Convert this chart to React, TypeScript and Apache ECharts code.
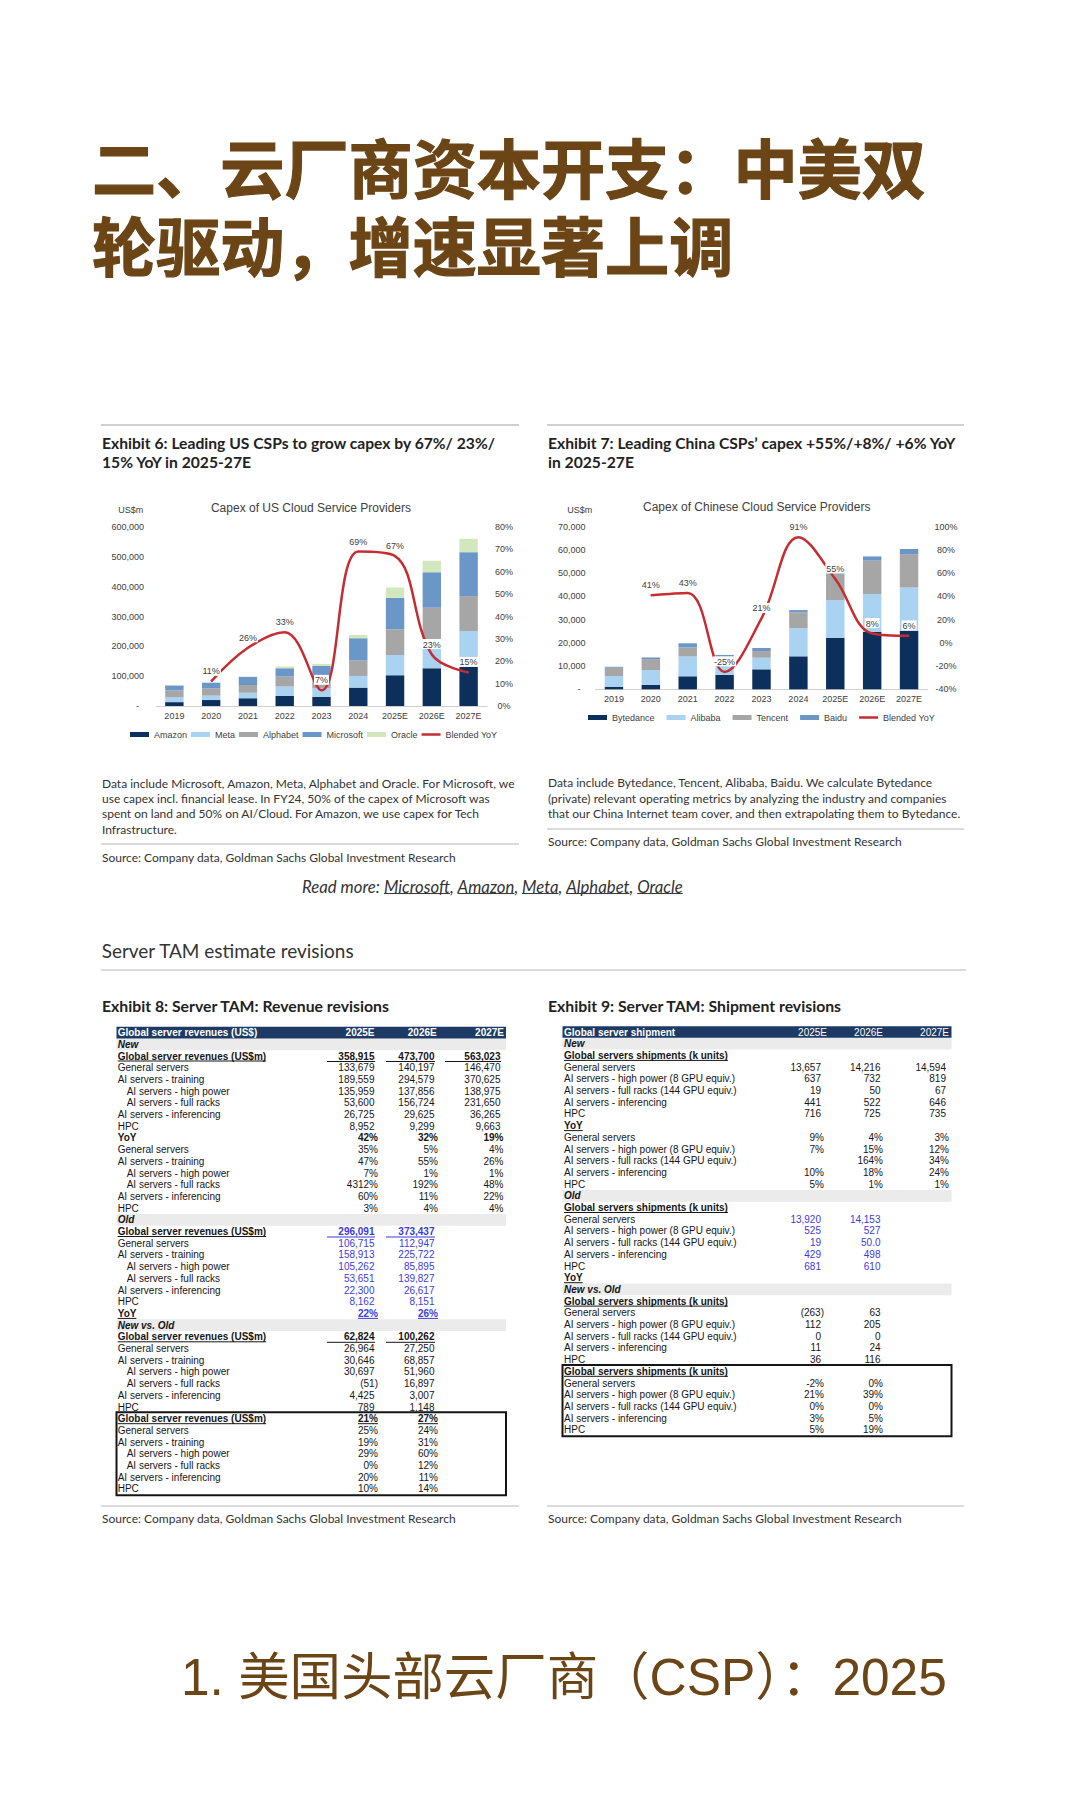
import React, { useEffect, useRef } from 'react';
import * as echarts from 'echarts';

// ---------------- text content ----------------
const pageTitle = ['二、云厂商资本开支：中美双', '轮驱动，增速显著上调'];
const bottomTitle = '1. 美国头部云厂商（CSP）：2025';

const ex6Title = ['Exhibit 6: Leading US CSPs to grow capex by 67%/ 23%/', '15% YoY in 2025-27E'];
const ex7Title = ['Exhibit 7: Leading China CSPs’ capex +55%/+8%/ +6% YoY', 'in 2025-27E'];
const usChartTitle = 'Capex of US Cloud Service Providers';
const cnChartTitle = 'Capex of Chinese Cloud Service Providers';
const unitLabel = 'US$m';
const ex6Notes = [
  'Data include Microsoft, Amazon, Meta, Alphabet and Oracle. For Microsoft, we',
  'use capex incl. financial lease. In FY24, 50% of the capex of Microsoft was',
  'spent on land and 50% on AI/Cloud. For Amazon, we use capex for Tech',
  'Infrastructure.',
];
const ex7Notes = [
  'Data include Bytedance, Tencent, Alibaba, Baidu. We calculate Bytedance',
  '(private) relevant operating metrics by analyzing the industry and companies',
  'that our China Internet team cover, and then extrapolating them to Bytedance.',
];
const sourceText = 'Source: Company data, Goldman Sachs Global Investment Research';
const readMorePrefix = 'Read more: ';
const readMoreLinks = ['Microsoft', 'Amazon', 'Meta', 'Alphabet', 'Oracle'];
const sectionHeading = 'Server TAM estimate revisions';
const ex8Title = 'Exhibit 8: Server TAM: Revenue revisions';
const ex9Title = 'Exhibit 9: Server TAM: Shipment revisions';

// ---------------- chart data ----------------
const years = ['2019', '2020', '2021', '2022', '2023', '2024', '2025E', '2026E', '2027E'];

const usNames = ['Amazon', 'Meta', 'Alphabet', 'Microsoft', 'Oracle'];
const usAmazon = [13000, 20000, 25700, 33600, 31000, 61600, 103000, 126500, 134000];
const usMeta = [16000, 14700, 19100, 31400, 29000, 39100, 68000, 89500, 117500];
const usAlphabet = [23500, 24300, 25700, 33500, 32000, 51500, 86000, 113000, 117000];
const usMicrosoft = [16500, 19000, 26500, 28000, 42000, 75000, 106000, 119000, 147000];
const usOracle = [1600, 1500, 1500, 6000, 7000, 11000, 34000, 39000, 45000];
const usYoY = [null, 0.11, 0.26, 0.33, 0.07, 0.69, 0.67, 0.23, 0.15];
const usLeftTicks = [0, 600000, 100000];
const usRightTicks = [0, 0.8, 0.1];

const cnNames = ['Bytedance', 'Alibaba', 'Tencent', 'Baidu'];
const cnBytedance = [1100, 1900, 5600, 6200, 8600, 14200, 22200, 24800, 25200];
const cnAlibaba = [4600, 6400, 8500, 4500, 5000, 12100, 16200, 16200, 18600];
const cnTencent = [3600, 4700, 4000, 3300, 2900, 6800, 13300, 14400, 14400];
const cnBaidu = [400, 700, 1700, 800, 1300, 1000, 1300, 1800, 2200];
const cnYoY = [null, 0.41, 0.43, -0.25, 0.21, 0.91, 0.55, 0.08, 0.06];
const cnLeftTicks = [0, 70000, 10000];
const cnRightTicks = [-0.4, 1.0, 0.2];

const yoyName = 'Blended YoY';

// ---------------- table 1 (revenue) ----------------
const t1Header = ['Global server revenues (US$)', '2025E', '2026E', '2027E'];
const t1Labels = [
  'New', 'Global server revenues (US$m)', 'General servers', 'AI servers - training',
  'AI servers - high power', 'AI servers - full racks', 'AI servers - inferencing', 'HPC',
  'YoY', 'General servers', 'AI servers - training', 'AI servers - high power',
  'AI servers - full racks', 'AI servers - inferencing', 'HPC',
  'Old', 'Global server revenues (US$m)', 'General servers', 'AI servers - training',
  'AI servers - high power', 'AI servers - full racks', 'AI servers - inferencing', 'HPC', 'YoY',
  'New vs. Old', 'Global server revenues (US$m)', 'General servers', 'AI servers - training',
  'AI servers - high power', 'AI servers - full racks', 'AI servers - inferencing', 'HPC',
  'Global server revenues (US$m)', 'General servers', 'AI servers - training',
  'AI servers - high power', 'AI servers - full racks', 'AI servers - inferencing', 'HPC',
];
const t1Col2025E = [
  '', '358,915', '133,679', '189,559', '135,959', '53,600', '26,725', '8,952',
  '42%', '35%', '47%', '7%', '4312%', '60%', '3%',
  '', '296,091', '106,715', '158,913', '105,262', '53,651', '22,300', '8,162', '22%',
  '', '62,824', '26,964', '30,646', '30,697', '(51)', '4,425', '789',
  '21%', '25%', '19%', '29%', '0%', '20%', '10%',
];
const t1Col2026E = [
  '', '473,700', '140,197', '294,579', '137,856', '156,724', '29,625', '9,299',
  '32%', '5%', '55%', '1%', '192%', '11%', '4%',
  '', '373,437', '112,947', '225,722', '85,895', '139,827', '26,617', '8,151', '26%',
  '', '100,262', '27,250', '68,857', '51,960', '16,897', '3,007', '1,148',
  '27%', '24%', '31%', '60%', '12%', '11%', '14%',
];
const t1Col2027E = [
  '', '563,023', '146,470', '370,625', '138,975', '231,650', '36,265', '9,663',
  '19%', '4%', '26%', '1%', '48%', '22%', '4%',
  '', '', '', '', '', '', '', '', '',
  '', '', '', '', '', '', '', '',
  '', '', '', '', '', '', '',
];
// row kinds (style codes)
const t1Kinds = [
  'sec', 'tot', 'r', 'r', 's', 's', 'r', 'r',
  'yoy', 'r', 'r', 's', 's', 'r', 'r',
  'sec', 'totB', 'b', 'b', 'bs', 'bs', 'b', 'b', 'yoyB',
  'sec', 'tot', 'r', 'r', 's', 's', 'r', 'r',
  'box', 'r', 'r', 's', 's', 'r', 'r',
];

// ---------------- table 2 (shipments) ----------------
const t2Header = ['Global server shipment', '2025E', '2026E', '2027E'];
const t2Labels = [
  'New', 'Global servers shipments (k units)', 'General servers',
  'AI servers - high power (8 GPU equiv.)', 'AI servers - full racks (144 GPU equiv.)',
  'AI servers - inferencing', 'HPC',
  'YoY', 'General servers', 'AI servers - high power (8 GPU equiv.)',
  'AI servers - full racks (144 GPU equiv.)', 'AI servers - inferencing', 'HPC',
  'Old', 'Global servers shipments (k units)', 'General servers',
  'AI servers - high power (8 GPU equiv.)', 'AI servers - full racks (144 GPU equiv.)',
  'AI servers - inferencing', 'HPC', 'YoY',
  'New vs. Old', 'Global servers shipments (k units)', 'General servers',
  'AI servers - high power (8 GPU equiv.)', 'AI servers - full racks (144 GPU equiv.)',
  'AI servers - inferencing', 'HPC',
  'Global servers shipments (k units)', 'General servers',
  'AI servers - high power (8 GPU equiv.)', 'AI servers - full racks (144 GPU equiv.)',
  'AI servers - inferencing', 'HPC',
];
const t2Col2025E = [
  '', '', '13,657', '637', '19', '441', '716',
  '', '9%', '7%', '', '10%', '5%',
  '', '', '13,920', '525', '19', '429', '681', '',
  '', '', '(263)', '112', '0', '11', '36',
  '', '-2%', '21%', '0%', '3%', '5%',
];
const t2Col2026E = [
  '', '', '14,216', '732', '50', '522', '725',
  '', '4%', '15%', '164%', '18%', '1%',
  '', '', '14,153', '527', '50.0', '498', '610', '',
  '', '', '63', '205', '0', '24', '116',
  '', '0%', '39%', '0%', '5%', '19%',
];
const t2Col2027E = [
  '', '', '14,594', '819', '67', '646', '735',
  '', '3%', '12%', '34%', '24%', '1%',
  '', '', '', '', '', '', '', '',
  '', '', '', '', '', '', '',
  '', '', '', '', '', '',
];
const t2Kinds = [
  'sec', 'hdr', 'r', 'r', 'r', 'r', 'r',
  'hdr', 'r', 'r', 'r', 'r', 'r',
  'sec', 'hdr', 'b', 'b', 'b', 'b', 'b', 'hdr',
  'sec', 'hdr', 'r', 'r', 'r', 'r', 'r',
  'box', 'r', 'r', 'r', 'r', 'r',
];

// ---------------- styling ----------------
const SANS = '"Liberation Sans", Arial, sans-serif';
const HUM = 'Lato, "Open Sans", sans-serif';
const MIXED = '"Liberation Sans", "Noto Sans CJK SC", sans-serif';
const BROWN = '#6b4516';
const C_NAVY = '#0c2f5c';
const C_LIGHT = '#a9d3f1';
const C_GRAY = '#a6a6a6';
const C_MID = '#6b96c8';
const C_GREEN = '#d3e7bf';
const C_RED = '#c42d32';
const TBL_NAVY = '#1c3a63';
const INK = '#151515';
const BLUE = '#3b3bdc';
const AXIS_TXT = '#404040';

let mctx: any = null;
function measure(t: string, size: number, family: string, weight = 'normal', style = 'normal') {
  if (!mctx) mctx = document.createElement('canvas').getContext('2d');
  mctx.font = `${style} ${weight} ${size}px ${family}`;
  return mctx.measureText(t).width;
}
function fitSize(t: string, width: number, family: string, weight = 'normal', style = 'normal') {
  return (100 * width) / measure(t, 100, family, weight, style);
}

function txt(t: string, x: number, y: number, size: number, family: string, o: any = {}) {
  const align = o.align || 'left';
  const va = o.va || 'middle';
  const style: any = {
    text: t, fill: o.color || '#333', fontSize: size, fontFamily: family,
    fontWeight: o.weight || 'normal', fontStyle: o.style || 'normal',
    textAlign: align, align, textVerticalAlign: va, verticalAlign: va,
  };
  if (o.lineHeight) style.lineHeight = o.lineHeight;
  if (o.stroke) { style.stroke = o.stroke; style.lineWidth = o.lineWidth || 1; }
  return { type: 'text', x, y, silent: true, z: o.z ?? 20, style };
}
function hline(x1: number, x2: number, y: number, color: string, w = 1, z = 15) {
  return { type: 'line', silent: true, z, shape: { x1, y1: y, x2, y2: y }, style: { stroke: color, lineWidth: w } };
}
function box(x: number, y: number, w: number, h: number, fill: string, stroke?: string, lw?: number, z = 5) {
  const style: any = { fill };
  if (stroke) { style.stroke = stroke; style.lineWidth = lw || 1; }
  return { type: 'rect', silent: true, z, shape: { x, y, width: w, height: h }, style };
}

function buildTable(cfg: any) {
  const els: any[] = [];
  const { left, right, c0, pitch, labels, cols, kinds, header, hdrRight, hdrYearBold,
    numRight, pctRight, labelX, indentX, cellSpans } = cfg;
  const rowY = (i: number) => c0 + i * pitch;
  els.push(box(left, rowY(0) - pitch / 2, right - left, pitch, TBL_NAVY));
  els.push(txt(header[0], labelX, rowY(0), 10, SANS, { color: '#fff', weight: 'bold' }));
  for (let k = 1; k < header.length; k++) {
    els.push(txt(header[k], hdrRight[k - 1], rowY(0), 10, SANS, {
      color: '#fff', weight: hdrYearBold ? 'bold' : 'normal', align: 'right',
    }));
  }
  let boxStart = -1;
  labels.forEach((lab: string, idx: number) => {
    const i = idx + 1;
    const y = rowY(i);
    const kind = kinds[idx];
    if (kind === 'sec') els.push(box(left, y - pitch / 2, right - left, pitch, '#ebebeb', undefined, undefined, 2));
    const indent = kind === 's' || kind === 'bs';
    const bold = ['sec', 'tot', 'totB', 'yoy', 'yoyB', 'box', 'hdr'].includes(kind);
    const italic = kind === 'sec';
    const ulLabel = ['tot', 'totB', 'yoyB', 'box', 'hdr'].includes(kind);
    const lx = indent ? indentX : labelX;
    els.push(txt(lab, lx, y, 10, SANS, {
      color: INK, weight: bold ? 'bold' : 'normal', style: italic ? 'italic' : 'normal',
    }));
    if (ulLabel) els.push(hline(lx, lx + measure(lab, 10, SANS, 'bold'), y + 5, INK));
    const blue = ['totB', 'b', 'bs', 'yoyB'].includes(kind);
    const valBold = ['tot', 'totB', 'yoy', 'yoyB', 'box'].includes(kind);
    const valUl = ['yoyB', 'box'].includes(kind);
    const color = blue ? BLUE : INK;
    cols.forEach((col: string[], c: number) => {
      const v = col[idx];
      if (!v) return;
      const isPct = /[%)]$/.test(v);
      const rx = isPct ? pctRight[c] : numRight[c];
      els.push(txt(v, rx, y, 10, SANS, { color, weight: valBold ? 'bold' : 'normal', align: 'right' }));
      if (valUl) {
        const w = measure(v, 10, SANS, 'bold');
        els.push(hline(rx - w, rx, y + 5, color));
      }
      if ((kind === 'tot' || kind === 'totB') && cellSpans) {
        els.push(hline(cellSpans[c][0], cellSpans[c][1], y + 5.5, color));
      }
    });
    if (kind === 'box') boxStart = i;
  });
  if (boxStart > 0) {
    const top = rowY(boxStart) - pitch / 2 - 0.5;
    const bottom = rowY(labels.length) + pitch / 2 + 0.5;
    els.push(box(left, top, right - left, bottom - top, 'none', INK, 2, 25));
  }
  return els;
}

const pct = (v: number) => Math.round(v * 100) + '%';
const thousands = (v: number) => (v === 0 ? '-\u00a0\u00a0' : Math.round(v).toLocaleString('en-US'));

function buildOption() {
  const g: any[] = [];

  // Page title
  const titleSize = fitSize(pageTitle[0], 834, MIXED, 'bold');
  const tOpts = { color: BROWN, weight: 'bold', stroke: BROWN, lineWidth: 1.2, lineHeight: 72 };
  g.push(txt(pageTitle[0], 92, 170.5, titleSize, MIXED, tOpts));
  g.push(txt(pageTitle[1], 92, 248.5, titleSize, MIXED, tOpts));

  // rules above exhibits
  g.push(hline(101, 519, 425, '#cfcfcf', 2));
  g.push(hline(547, 964, 425, '#cfcfcf', 2));

  // exhibit titles
  const exSize = fitSize(ex6Title[0], 394, HUM, 'bold');
  g.push(txt(ex6Title[0], 102, 443.3, exSize, HUM, { color: '#222', weight: 'bold' }));
  g.push(txt(ex6Title[1], 102, 461.7, exSize, HUM, { color: '#222', weight: 'bold' }));
  g.push(txt(ex7Title[0], 548, 443.3, exSize, HUM, { color: '#222', weight: 'bold' }));
  g.push(txt(ex7Title[1], 548, 461.7, exSize, HUM, { color: '#222', weight: 'bold' }));

  // chart titles and units
  g.push(txt(usChartTitle, 311, 507.5, 12, SANS, { color: AXIS_TXT, align: 'center' }));
  g.push(txt(cnChartTitle, 756.7, 507.3, 12, SANS, { color: AXIS_TXT, align: 'center' }));
  g.push(txt(unitLabel, 118.3, 510, 9, SANS, { color: AXIS_TXT }));
  g.push(txt(unitLabel, 567.3, 510, 9, SANS, { color: AXIS_TXT }));

  // notes
  const noteSize = fitSize(ex6Notes[0], 414, HUM);
  const ex6Y = [783, 798.5, 813.7, 829];
  ex6Notes.forEach((l, i) => g.push(txt(l, 102, ex6Y[i], noteSize, HUM, { color: '#333' })));
  g.push(hline(101, 519, 844, '#cfcfcf', 1.5));
  g.push(txt(sourceText, 102, 857, noteSize, HUM, { color: '#333' }));
  const ex7Y = [782.7, 798.5, 813.3];
  ex7Notes.forEach((l, i) => g.push(txt(l, 548, ex7Y[i], noteSize, HUM, { color: '#333' })));
  g.push(hline(547, 964, 829, '#cfcfcf', 1.5));
  g.push(txt(sourceText, 548, 841, noteSize, HUM, { color: '#333' }));

  // read more line
  const fullRead = readMorePrefix + readMoreLinks.join(', ');
  const rmSize = fitSize(fullRead, 381, HUM, 'normal', 'italic');
  let rx = 302;
  const rmY = 886;
  g.push(txt(readMorePrefix, rx, rmY, rmSize, HUM, { color: '#333', style: 'italic' }));
  rx += measure(readMorePrefix, rmSize, HUM, 'normal', 'italic');
  readMoreLinks.forEach((lnk, i) => {
    const w = measure(lnk, rmSize, HUM, 'normal', 'italic');
    g.push(txt(lnk, rx, rmY, rmSize, HUM, { color: '#333', style: 'italic' }));
    g.push(hline(rx, rx + w, rmY + rmSize * 0.45, '#333', 1));
    rx += w;
    if (i < readMoreLinks.length - 1) {
      g.push(txt(', ', rx, rmY, rmSize, HUM, { color: '#333', style: 'italic' }));
      rx += measure(', ', rmSize, HUM, 'normal', 'italic');
    }
  });

  // section heading
  const headSize = fitSize(sectionHeading, 253, HUM);
  g.push(txt(sectionHeading, 101.7, 950, headSize, HUM, { color: '#333' }));
  g.push(hline(101, 966, 970, '#cfcfcf', 1.5));

  // exhibit 8/9 titles
  const ex8Size = fitSize(ex8Title, 288, HUM, 'bold');
  g.push(txt(ex8Title, 102, 1005, ex8Size, HUM, { color: '#222', weight: 'bold' }));
  g.push(txt(ex9Title, 548, 1005, ex8Size, HUM, { color: '#222', weight: 'bold' }));

  // tables
  g.push(...buildTable({
    left: 116.5, right: 506, c0: 1032.6, pitch: 11.7,
    labels: t1Labels, cols: [t1Col2025E, t1Col2026E, t1Col2027E], kinds: t1Kinds,
    header: t1Header, hdrRight: [374.5, 436.7, 504], hdrYearBold: true,
    numRight: [374.5, 434.5, 500.5], pctRight: [378, 438, 503.5],
    labelX: 117.7, indentX: 126.7,
    cellSpans: [[327, 375], [386, 435], [445, 501]],
  }));
  g.push(...buildTable({
    left: 562.5, right: 951.5, c0: 1032, pitch: 11.7,
    labels: t2Labels, cols: [t2Col2025E, t2Col2026E, t2Col2027E], kinds: t2Kinds,
    header: t2Header, hdrRight: [827, 883, 949], hdrYearBold: false,
    numRight: [821, 880.5, 946], pctRight: [824, 883, 949],
    labelX: 564, indentX: 564,
    cellSpans: null,
  }));

  // bottom sources
  g.push(hline(101, 519, 1506, '#cfcfcf', 1.5));
  g.push(hline(547, 964, 1506, '#cfcfcf', 1.5));
  g.push(txt(sourceText, 102, 1518, noteSize, HUM, { color: '#333' }));
  g.push(txt(sourceText, 548, 1518, noteSize, HUM, { color: '#333' }));

  // bottom subtitle
  const btSize = fitSize(bottomTitle, 766, MIXED);
  g.push(txt(bottomTitle, 181, 1677, btSize, MIXED, { color: BROWN, lineHeight: Math.round(btSize) }));

  const axisLabelBase = { fontSize: 9, color: AXIS_TXT, fontFamily: SANS };
  const yoyLabel = {
    show: true, position: 'top', distance: 5, formatter: (p: any) => pct(p.value),
    fontSize: 9, color: AXIS_TXT, fontFamily: SANS, backgroundColor: '#fff', padding: [1, 1, 0, 1],
  };
  const lineIcon = 'path://M0,0H19V2.5H0Z';

  const usBarData = [usAmazon, usMeta, usAlphabet, usMicrosoft, usOracle];
  const usColors = [C_NAVY, C_LIGHT, C_GRAY, C_MID, C_GREEN];
  const cnBarData = [cnBytedance, cnAlibaba, cnTencent, cnBaidu];
  const cnColors = [C_NAVY, C_LIGHT, C_GRAY, C_MID];

  const series: any[] = [];
  usNames.forEach((n, i) => series.push({
    type: 'bar', name: n, stack: 'us', xAxisIndex: 0, yAxisIndex: 0, data: usBarData[i],
    barWidth: '50%', itemStyle: { color: usColors[i] },
  }));
  series.push({
    type: 'line', name: yoyName, xAxisIndex: 0, yAxisIndex: 1, data: usYoY, smooth: 0.38,
    symbol: 'circle', symbolSize: 1, lineStyle: { color: C_RED, width: 2.5 }, itemStyle: { color: C_RED },
    label: yoyLabel, z: 5,
  });
  cnNames.forEach((n, i) => series.push({
    type: 'bar', name: n, stack: 'cn', xAxisIndex: 1, yAxisIndex: 2, data: cnBarData[i],
    barWidth: '50%', itemStyle: { color: cnColors[i] },
  }));
  series.push({
    type: 'line', name: yoyName, xAxisIndex: 1, yAxisIndex: 3, data: cnYoY, smooth: 0.38,
    symbol: 'circle', symbolSize: 1, lineStyle: { color: C_RED, width: 2.5 }, itemStyle: { color: C_RED },
    label: yoyLabel, z: 5,
  });

  const catAxis = (gi: number, margin: number) => ({
    type: 'category', gridIndex: gi, data: years, axisTick: { show: false },
    axisLine: { lineStyle: { color: '#d0d0d0', width: 1 } },
    axisLabel: { ...axisLabelBase, margin },
  });
  const valAxis = (gi: number, ticks: number[], pos: string, fmt: any, margin: number, align?: string) => ({
    type: 'value', gridIndex: gi, position: pos, min: ticks[0], max: ticks[1], interval: ticks[2],
    splitLine: { show: false }, axisLine: { show: false }, axisTick: { show: false },
    axisLabel: { ...axisLabelBase, formatter: fmt, margin, ...(align ? { align } : {}) },
  });

  return {
    animation: false,
    backgroundColor: '#ffffff',
    grid: [
      { left: 156, top: 527, width: 331, height: 179 },
      { left: 595.5, top: 526.7, width: 332, height: 162.6 },
    ],
    xAxis: [catAxis(0, 5), catAxis(1, 5)],
    yAxis: [
      valAxis(0, usLeftTicks, 'left', thousands, 12),
      valAxis(0, usRightTicks, 'right', pct, 17, 'center'),
      valAxis(1, cnLeftTicks, 'left', thousands, 10),
      valAxis(1, cnRightTicks, 'right', pct, 18.5, 'center'),
    ],
    legend: [
      {
        left: 125, top: 725, itemWidth: 19, itemHeight: 5, itemGap: 4, selectedMode: false,
        textStyle: { fontSize: 9, color: AXIS_TXT, fontFamily: SANS },
        data: [...usNames.map((n) => ({ name: n, icon: 'rect' })), { name: yoyName, icon: lineIcon }],
      },
      {
        left: 583, top: 708, itemWidth: 19, itemHeight: 5, itemGap: 12, selectedMode: false,
        textStyle: { fontSize: 9, color: AXIS_TXT, fontFamily: SANS },
        data: [...cnNames.map((n) => ({ name: n, icon: 'rect' })), { name: yoyName, icon: lineIcon }],
      },
    ],
    series,
    graphic: { elements: g },
  };
}

export default function App() {
  const ref = useRef<HTMLDivElement>(null);
  useEffect(() => {
    const chart = echarts.init(ref.current as HTMLDivElement, null, { renderer: 'svg' });
    chart.setOption(buildOption() as any);
    return () => chart.dispose();
  }, []);
  return (
    <div
      ref={ref}
      style={{ position: 'absolute', left: 0, top: 0, width: 1080, height: 1800, background: '#fff' }}
    />
  );
}
